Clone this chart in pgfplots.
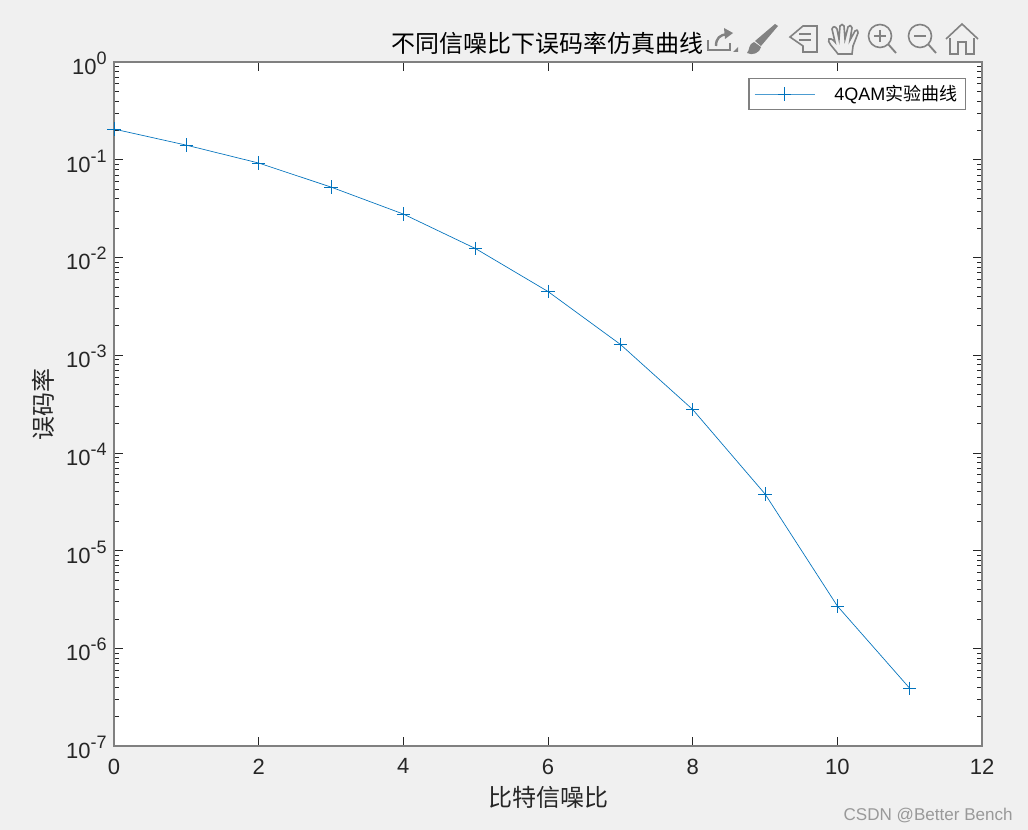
\documentclass[border=0pt]{standalone}
\usepackage{fontspec}
\setmainfont{Liberation Sans}
\newfontfamily\cjk{Noto Sans CJK SC}
\usepackage{pgfplots}
\pgfplotsset{compat=1.18}
\definecolor{figbg}{RGB}{240,240,240}
\definecolor{matblue}{RGB}{0,114,189}
\definecolor{axgray}{RGB}{128,128,128}
\definecolor{icongray}{RGB}{130,130,130}
\definecolor{txt}{RGB}{38,38,38}
\newcommand{\decade}[1]{10\raisebox{7.5pt}{\fontsize{13.5}{15}\selectfont #1}}
\begin{document}
\begin{tikzpicture}
% page background, in reference pixels (origin top left)
\begin{scope}[x=0.75pt,y=-0.75pt]
\fill[figbg] (0,0) rectangle (1028,830);
\useasboundingbox (0,0) rectangle (1028,830);
\end{scope}
\begin{axis}[
    at={(85.5pt,-559.5pt)}, anchor=south west,
    scale only axis, width=651pt, height=513pt,
    ymode=log, xmin=0, xmax=12, ymin=1e-7, ymax=1,
    axis background/.style={fill=white},
    axis line style={axgray, line width=1.3pt},
    xtick={0,2,4,6,8,10,12},
    ytick={1e-7,1e-6,1e-5,1e-4,1e-3,1e-2,1e-1,1},
    yticklabels={\decade{-7},\decade{-6},\decade{-5},\decade{-4},\decade{-3},\decade{-2},\decade{-1},\decade{0}},
    /pgf/number format/assume math mode=true,
    tick align=inside, tick pos=both,
    major tick length=6.4pt, minor tick length=3.4pt,
    every tick/.style={txt, line width=0.4pt},
    ticklabel style={font=\fontsize{16.5}{18}\selectfont, text=txt},
    xticklabel style={yshift=-6pt},
    yticklabel style={xshift=-2pt, yshift=-1pt},
    xlabel={\cjk 比特信噪比},
    ylabel={\cjk 误码率},
    label style={font=\fontsize{18}{20}\selectfont, text=txt},
    xlabel style={yshift=-2pt},
    ylabel style={yshift=2pt},
    legend style={at={(0.9816,0.9766)}, anchor=north east, draw=axgray, line width=1pt,
        font=\fontsize{13.5}{15}\selectfont, text=black, inner xsep=4pt, inner ysep=3pt,
        legend cell align=left},
    legend image code/.code={
        \draw[matblue!70, line width=0.5pt] (0pt,0pt) -- (45pt,0pt);
        \draw[matblue, line width=0.5pt] (22.5pt,-5pt) -- (22.5pt,5pt) (17.5pt,0pt) -- (27.5pt,0pt);
    },
]
\addplot[matblue, line width=0.5pt, mark=+, mark size=5pt, mark options={line width=0.5pt}] coordinates {
    (0,0.206) (1,0.141) (2,0.0925) (3,0.0525) (4,0.0278) (5,0.0123)
    (6,0.00448) (7,0.00129) (8,0.000278) (9,0.000038) (10,0.00000271) (11,0.00000039)
};
\addlegendentry{\hspace{12.5pt}4QAM{\cjk 实验曲线}}
\end{axis}
\begin{scope}[x=0.75pt,y=-0.75pt]
% title sits partly under the figure toolbar, as in the reference
\node[anchor=base, font=\fontsize{18}{20}\selectfont, text=black] at (547,53) {\cjk 不同信噪比下误码率仿真曲线};
% toolbar icons
\begin{scope}[draw=icongray, line width=1.2pt, fill=icongray]
  \draw (708,40) -- (708,50) -- (730,50) -- (730,43);
  \draw[line width=1.8pt] (716,46) .. controls (716,38) and (720,35) .. (727,34);
  \fill (724,28) -- (733,33) -- (725,39) -- cycle;
  \fill (733,52) -- (738,47) -- (738,52) -- cycle;
  % brush
  \fill (775,24) -- (778,26) -- (761,46) -- (755,41) -- cycle;
  \fill (747,53) .. controls (750,50) and (748,44) .. (754,42) -- (761,47) .. controls (760,53) and (752,56) .. (747,53) -- cycle;
  \draw (803,26) -- (790,37) -- (803,46) -- (803,52) -- (817,52) -- (817,26) -- cycle;
  \draw (799,34) -- (811,34) (799,40) -- (811,40);
  \draw (838,54) .. controls (832,46) and (827,42) .. (829,39) .. controls (832,38) and (835,42) .. (835,42)
        -- (832,29) .. controls (833,26) and (835,26) .. (837,29) -- (839,39)
        -- (840,26) .. controls (841,24) and (843,24) .. (844,26) -- (845,39)
        -- (848,27) .. controls (849,25) and (851,25) .. (852,28) -- (850,40)
        -- (855,31) .. controls (856,29) and (858,30) .. (858,33) -- (853,46) -- (852,54) -- cycle;
  \draw (880,36) circle [radius=11.5];
  \draw[line width=1.4pt] (888,44) -- (896,53);
  \draw (874,36) -- (886,36) (880,30) -- (880,42);
  \draw (920,36) circle [radius=11.5];
  \draw[line width=1.4pt] (928,44) -- (936,53);
  \draw (914,36) -- (926,36);
  \draw (946,39) -- (962,24) -- (978,39);
  \draw (950,38) -- (950,54) -- (958,54) -- (958,42) -- (966,42) -- (966,54) -- (974,54) -- (974,38);
\end{scope}
\node[anchor=base east, inner sep=0pt, font=\fontsize{12.8}{14}\selectfont, text=gray!80] at (1013,820) {CSDN @Better Bench};
\end{scope}
\end{tikzpicture}
\end{document}
